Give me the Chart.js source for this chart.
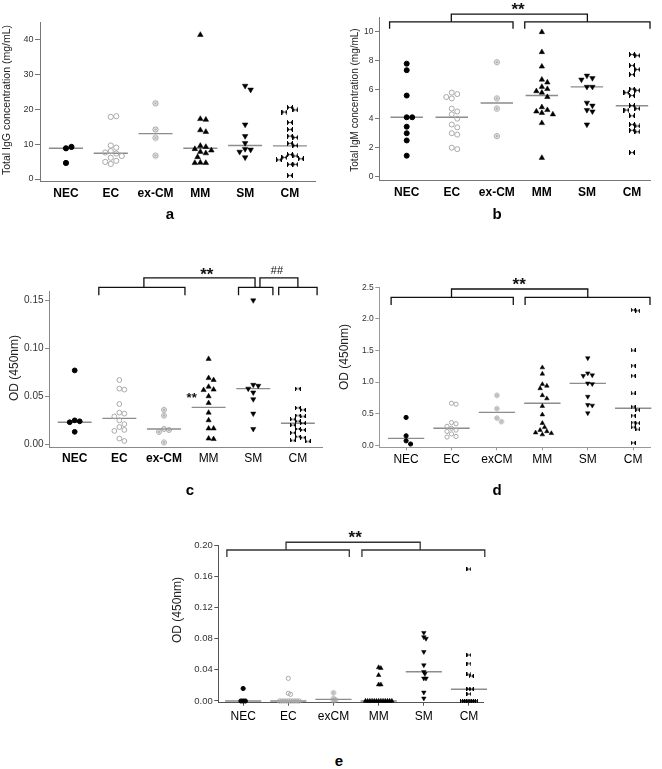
<!DOCTYPE html>
<html>
<head>
<meta charset="utf-8">
<script src="https://cdn.jsdelivr.net/npm/chart.js@4/dist/chart.umd.min.js"></script>
<style>
    body { margin: 0; background: #fff; width: 662px; height: 769px; position: relative; overflow: hidden; font-family: Arial, "Liberation Sans", sans-serif; }
    .panel { position: absolute; }
    .lbl { position: absolute; font-weight: bold; font-size: 15px; transform: translate(-50%, -50%); }
</style>
</head>
<body>
<div class="panel" style="left:0;top:0"><canvas id="chartA" width="330" height="205"></canvas></div>
<div class="panel" style="left:330px;top:0"><canvas id="chartB" width="332" height="205"></canvas></div>
<div class="panel" style="left:0;top:240px"><canvas id="chartC" width="330" height="235"></canvas></div>
<div class="panel" style="left:330px;top:240px"><canvas id="chartD" width="332" height="235"></canvas></div>
<div class="panel" style="left:150px;top:480px"><canvas id="chartE" width="350" height="255"></canvas></div>
<div class="lbl" style="left:170px;top:213px">a</div>
<div class="lbl" style="left:497px;top:213px">b</div>
<div class="lbl" style="left:190px;top:489px">c</div>
<div class="lbl" style="left:497px;top:489px">d</div>
<div class="lbl" style="left:339px;top:760px">e</div>

<script>
// ---- groups ----
const groups = ["NEC", "EC", "ex-CM", "MM", "SM", "CM"];
const groupsShort = ["NEC", "EC", "exCM", "MM", "SM", "CM"];

// ---- a: total IgG (mg/mL), one list per group ----
const iggValues = [
    [8.8, 9.2, 4.6],
    [17.8, 18.0, 9.6, 9.0, 8.0, 7.6, 7.3, 6.6, 6.1, 5.2, 4.9, 4.3],
    [21.7, 14.2, 11.8, 6.7],
    [41.3, 17.2, 17.0, 14.0, 13.5, 9.5, 9.2, 8.6, 8.2, 7.8, 7.4, 6.3, 4.7, 4.6, 4.6],
    [26.7, 25.6, 15.6, 12.3, 10.3, 8.6, 8.4, 7.8, 6.2],
    [20.5, 19.8, 19.2, 16.2, 14.2, 12.3, 11.9, 10.2, 9.6, 7.0, 6.6, 6.2, 5.8, 5.5, 4.2, 4.2, 1.0]
];
const iggMedians = [8.8, 7.4, 13.0, 8.8, 9.6, 9.5];
const iggTicks = [0, 10, 20, 30, 40];

// ---- b: total IgM (mg/mL) ----
const igmValues = [
    [7.8, 7.35, 5.6, 4.1, 4.1, 3.45, 3.0, 2.5, 1.45],
    [5.8, 5.7, 5.5, 5.4, 4.7, 4.5, 4.3, 4.0, 3.6, 3.4, 3.0, 2.9, 2.0, 1.9],
    [7.9, 5.4, 4.7, 2.8],
    [9.98, 8.6, 7.6, 6.7, 6.5, 6.2, 6.05, 5.9, 5.8, 5.5, 4.8, 4.6, 4.5, 4.4, 4.3, 3.7, 1.3],
    [6.97, 6.8, 6.7, 6.2, 6.2, 5.1, 4.9, 4.6, 4.5, 3.6],
    [8.43, 8.36, 7.67, 7.4, 7.05, 6.05, 5.96, 5.8, 5.6, 4.9, 4.7, 4.6, 4.2, 3.6, 3.5, 3.2, 3.1, 1.66]
];
const igmMedians = [4.1, 4.1, 5.08, 5.6, 6.2, 4.9];
const igmTicks = [0, 2, 4, 6, 8, 10];

// ---- c: OD (450nm) ----
const odCValues = [
    [0.077, 0.025, 0.024, 0.023, 0.013],
    [0.067, 0.058, 0.057, 0.042, 0.033, 0.032, 0.029, 0.025, 0.021, 0.018, 0.015, 0.014, 0.006, 0.0035],
    [0.036, 0.030, 0.016, 0.015, 0.013, 0.002],
    [0.089, 0.069, 0.067, 0.060, 0.057, 0.0565, 0.050, 0.043, 0.033, 0.025, 0.0165, 0.0165, 0.006, 0.0055],
    [0.150, 0.062, 0.061, 0.058, 0.054, 0.047, 0.032, 0.016],
    [0.058, 0.038, 0.036, 0.030, 0.029, 0.026, 0.024, 0.022, 0.020, 0.016, 0.015, 0.012, 0.008, 0.007, 0.004, 0.003]
];
const odCMedians = [0.023, 0.027, 0.016, 0.0385, 0.058, 0.022];
const odCTicks = [0, 0.05, 0.10, 0.15];

// ---- d: OD (450nm) ----
const odDValues = [
    [0.44, 0.15, 0.07, 0.02],
    [0.665, 0.65, 0.36, 0.34, 0.30, 0.27, 0.24, 0.22, 0.18, 0.14, 0.13],
    [0.79, 0.58, 0.43, 0.375],
    [1.23, 1.13, 0.965, 0.94, 0.90, 0.79, 0.74, 0.62, 0.485, 0.35, 0.285, 0.24, 0.22, 0.20, 0.19, 0.17],
    [1.38, 1.14, 1.11, 1.10, 0.98, 0.97, 0.77, 0.64, 0.63, 0.51],
    [2.14, 2.13, 1.50, 1.26, 1.10, 0.82, 0.61, 0.56, 0.47, 0.36, 0.35, 0.285, 0.25, 0.04]
];
const odDMedians = [0.11, 0.27, 0.52, 0.665, 0.98, 0.585];
const odDTicks = [0, 0.5, 1.0, 1.5, 2.0, 2.5];

// ---- e: OD (450nm) ----
const odEValues = [
    [0.016, 0, 0, 0],
    [0.029, 0.0098, 0.0085, 0, 0, 0, 0, 0, 0, 0, 0, 0, 0],
    [0.0106, 0.0034, 0.0013, 0],
    [0.043, 0.042, 0.033, 0.021, 0.021, 0, 0, 0, 0, 0, 0, 0, 0, 0, 0, 0, 0, 0],
    [0.0875, 0.082, 0.080, 0.063, 0.046, 0.0375, 0.035, 0.029, 0.029, 0.011, 0.0034],
    [0.169, 0.059, 0.048, 0.034, 0.032, 0.0155, 0.015, 0.009, 0, 0, 0, 0, 0, 0, 0]
];
const odEMedians = [0, 0, 0.002, 0, 0.0375, 0.015];
const odETicks = [0, 0.04, 0.08, 0.12, 0.16, 0.20];

const FONT = 'Arial, "Liberation Sans", sans-serif';

// brackets, stars and the rotated y title
const marksPlugin = {
    id: 'marks',
    afterDraw(chart, args, opts) {
        const { ctx } = chart;
        const x = chart.scales.x;
        const y = chart.scales.y;
        ctx.save();
        ctx.strokeStyle = opts.color;
        ctx.lineWidth = 1.3;
        (opts.brackets || []).forEach(b => {
            const x1 = x.getPixelForValue(b[0]);
            const x2 = x.getPixelForValue(b[1]);
            const yt = y.getPixelForValue(b[2]);
            const yb = y.getPixelForValue(b[3]);
            ctx.beginPath();
            ctx.moveTo(x1, yb);
            ctx.lineTo(x1, yt);
            ctx.lineTo(x2, yt);
            ctx.lineTo(x2, yb);
            ctx.stroke();
        });
        ctx.fillStyle = '#111';
        ctx.textAlign = 'center';
        ctx.textBaseline = 'middle';
        (opts.texts || []).forEach(t => {
            ctx.font = `${t.bold ? 'bold ' : ''}${t.size}px ${FONT}`;
            ctx.fillText(t.text, x.getPixelForValue(t.x), y.getPixelForValue(t.y) + (t.dy || 0));
        });
        if (opts.title) {
            ctx.translate(opts.title.x, opts.title.y);
            ctx.rotate(-Math.PI / 2);
            ctx.font = `${opts.title.size}px ${FONT}`;
            ctx.fillStyle = '#222';
            ctx.fillText(opts.title.text, 0, 0);
        }
        ctx.restore();
    }
};

function makeMarkers(r) {
    // ex-CM: grey ring with a dot inside
    const s = Math.ceil(2 * r + 3);
    const ring = document.createElement('canvas');
    ring.width = ring.height = s;
    let g = ring.getContext('2d');
    g.strokeStyle = '#9a9a9a';
    g.lineWidth = 1;
    g.beginPath(); g.arc(s / 2, s / 2, r, 0, Math.PI * 2); g.stroke();
    g.fillStyle = '#b0b0b0';
    g.beginPath(); g.arc(s / 2, s / 2, r * 0.5, 0, Math.PI * 2); g.fill();

    // CM: bow tie
    const bw = Math.round(2 * r + 1);
    const bh = Math.round(2 * r - 0.5);
    const tie = document.createElement('canvas');
    tie.width = bw; tie.height = bh;
    g = tie.getContext('2d');
    g.fillStyle = '#000';
    g.beginPath(); g.moveTo(0, 0); g.lineTo(bw / 2, bh / 2); g.lineTo(0, bh); g.closePath(); g.fill();
    g.beginPath(); g.moveTo(bw, 0); g.lineTo(bw / 2, bh / 2); g.lineTo(bw, bh); g.closePath(); g.fill();
    g.fillRect(0, 0, 1, bh);
    g.fillRect(bw - 1, 0, 1, bh);
    return { ring, tie };
}

function groupStyle(i, r, m) {
    const base = { pointRadius: r, pointBorderWidth: 1, pointBackgroundColor: '#000', pointBorderColor: '#000', pointRotation: 0 };
    if (i === 0) return { ...base, pointStyle: 'circle' };
    if (i === 1) return { ...base, pointStyle: 'circle', pointBackgroundColor: 'rgba(255,255,255,0)', pointBorderColor: '#a8a8a8' };
    if (i === 2) return { ...base, pointStyle: m.ring };
    if (i === 3) return { ...base, pointStyle: 'triangle', pointRadius: r * 1.25, pointBorderWidth: 0.5 };
    if (i === 4) return { ...base, pointStyle: 'triangle', pointRadius: r * 1.25, pointBorderWidth: 0.5, pointRotation: 180 };
    return { ...base, pointStyle: m.tie };
}

// simple beeswarm: spread points of similar value sideways
function swarm(values, center, pxPerX, pxPerY, diam) {
    const placed = [];
    return values.map(v => {
        const py = v * pxPerY;
        let dx = 0;
        for (let k = 0; k < 60; k++) {
            const step = Math.ceil(k / 2) * diam / 2;
            const cand = k % 2 ? step : -step;
            const hit = placed.some(p => Math.hypot(p.dx - cand, p.py - py) < diam - 0.01);
            if (!hit) { dx = cand; break; }
        }
        placed.push({ dx, py });
        return { x: center + dx / pxPerX, y: v };
    });
}

function medianSegments(medians, half) {
    const pts = [];
    medians.forEach((m, i) => {
        pts.push({ x: i + 1 - half, y: m }, { x: i + 1 + half, y: m }, { x: i + 1 + half, y: null });
    });
    return pts;
}

function makePanel(cfg) {
    const plotW = cfg.w - cfg.right - cfg.left;
    const plotH = cfg.h - cfg.xAxisH - cfg.top;
    const pxPerX = plotW / (cfg.xMax - cfg.xMin);
    const pxPerY = plotH / (cfg.yMax - cfg.yMin);
    const markers = makeMarkers(cfg.r);

    const datasets = cfg.values.map((vals, i) => ({
        data: swarm(vals, i + 1, pxPerX, pxPerY, cfg.diam),
        ...groupStyle(i, cfg.r, markers),
        showLine: false,
        clip: false,
        order: 1
    }));
    datasets.push({
        data: medianSegments(cfg.medians, cfg.half),
        showLine: true,
        spanGaps: false,
        pointRadius: 0,
        borderColor: cfg.medianColor || '#8c8c8c',
        borderWidth: 1.4,
        clip: false,
        order: 2
    });

    new Chart(document.getElementById(cfg.id), {
        type: 'scatter',
        data: { datasets },
        options: {
            responsive: false,
            animation: false,
            events: [],
            layout: { padding: { top: cfg.top, right: cfg.right, left: 0, bottom: 0 } },
            plugins: {
                legend: { display: false },
                tooltip: { enabled: false },
                marks: {
                    color: cfg.bracketColor || '#111',
                    brackets: cfg.brackets,
                    texts: cfg.texts,
                    title: cfg.title
                }
            },
            scales: {
                x: {
                    type: 'linear',
                    min: cfg.xMin,
                    max: cfg.xMax,
                    afterBuildTicks: s => { s.ticks = cfg.labels.map((_, i) => ({ value: i + 1 })); },
                    afterFit: s => { s.height = cfg.xAxisH; },
                    grid: { drawOnChartArea: false, drawTicks: cfg.xTickLen > 0, tickLength: cfg.xTickLen || 0, color: cfg.axisColor },
                    border: { color: cfg.axisColor, width: 1 },
                    ticks: {
                        autoSkip: false,
                        maxRotation: 0,
                        padding: cfg.labelPad,
                        color: '#000',
                        font: c => ({ family: FONT, size: 12, weight: cfg.bold[c.index] ? 'bold' : 'normal' }),
                        callback: v => cfg.labels[Math.round(v) - 1]
                    }
                },
                y: {
                    min: cfg.yMin,
                    max: cfg.yMax,
                    afterBuildTicks: s => { s.ticks = cfg.yTicks.map(v => ({ value: v })); },
                    afterFit: s => { s.width = cfg.left; },
                    grid: { drawOnChartArea: false, tickLength: cfg.tickLen, color: cfg.axisColor },
                    border: { color: cfg.axisColor, width: 1 },
                    ticks: {
                        padding: 1.5,
                        color: '#333',
                        font: { family: FONT, size: cfg.tickSize },
                        callback: v => cfg.fmt(v)
                    }
                }
            }
        },
        plugins: [marksPlugin]
    });
}

makePanel({
    id: 'chartA', w: 330, h: 205, left: 40, right: 15, top: 22, xAxisH: 24,
    xMin: 0.42, xMax: 6.56, yMin: -0.57, yMax: 45,
    yTicks: iggTicks, fmt: v => String(v),
    labels: groups, bold: [1, 1, 1, 1, 1, 1], labelPad: 5, xTickLen: 0,
    values: iggValues, medians: iggMedians,
    r: 2.6, diam: 5.5, half: 0.38,
    tickSize: 9, tickLen: 5, axisColor: '#777',
    title: { text: 'Total IgG concentration (mg/mL)', x: 7, y: 100, size: 10.5 },
    brackets: [], texts: []
});

makePanel({
    id: 'chartB', w: 332, h: 205, left: 49, right: 12, top: 17.3, xAxisH: 25,
    xMin: 0.385, xMax: 6.4, yMin: -0.23, yMax: 11,
    yTicks: igmTicks, fmt: v => String(v),
    labels: groups, bold: [1, 1, 1, 1, 1, 1], labelPad: 5, xTickLen: 0,
    values: igmValues, medians: igmMedians,
    r: 2.5, diam: 5.5, half: 0.36,
    tickSize: 8.5, tickLen: 4, axisColor: '#777',
    title: { text: 'Total IgM concentration (mg/mL)', x: 25, y: 100, size: 10 },
    brackets: [[0.62, 3.36, 10.69, 10.21], [3.62, 6.4, 10.69, 10.21], [1.99, 5.01, 11.22, 10.69]],
    texts: [{ x: 3.47, y: 11.75, text: '**', size: 17, bold: true, dy: 4 }]
});

makePanel({
    id: 'chartC', w: 330, h: 235, left: 49, right: 8, top: 51.7, xAxisH: 27.7,
    xMin: 0.424, xMax: 6.54, yMin: -0.0031, yMax: 0.159,
    yTicks: odCTicks, fmt: v => v.toFixed(2),
    labels: groups, bold: [1, 1, 1, 0, 0, 0], labelPad: 4.4, xTickLen: 0,
    values: odCValues, medians: odCMedians,
    r: 2.4, diam: 5, half: 0.38,
    tickSize: 10, tickLen: 4, axisColor: '#888',
    title: { text: 'OD (450nm)', x: 15, y: 128, size: 12 },
    brackets: [[1.54, 3.47, 0.1636, 0.1552], [4.67, 5.44, 0.1636, 0.1552], [5.57, 6.43, 0.1636, 0.1552],
               [2.55, 5.04, 0.1733, 0.1636], [5.15, 6.0, 0.1733, 0.1636]],
    texts: [{ x: 3.96, y: 0.1806, text: '**', size: 17, bold: true, dy: 4 },
            { x: 5.53, y: 0.1806, text: '##', size: 11 },
            { x: 3.62, y: 0.0506, text: '**', size: 13, bold: true, dy: 3 }]
});

makePanel({
    id: 'chartD', w: 332, h: 235, left: 49.3, right: 12, top: 47.3, xAxisH: 27.7,
    xMin: 0.41, xMax: 6.37, yMin: -0.032, yMax: 2.5,
    yTicks: odDTicks, fmt: v => v.toFixed(1),
    labels: groupsShort, bold: [0, 0, 0, 0, 0, 0], labelPad: 2, xTickLen: 3,
    values: odDValues, medians: odDMedians,
    r: 2.1, diam: 4.5, half: 0.4,
    tickSize: 8.5, tickLen: 4, axisColor: '#999',
    title: { text: 'OD (450nm)', x: 15, y: 117, size: 12 },
    brackets: [[0.67, 3.36, 2.342, 2.22], [3.62, 6.37, 2.342, 2.22], [2.0, 5.0, 2.473, 2.342]],
    texts: [{ x: 3.49, y: 2.59, text: '**', size: 17, bold: true, dy: 4 }]
});

makePanel({
    id: 'chartE', w: 350, h: 255, left: 68.3, right: 17, top: 65, xAxisH: 32.3,
    xMin: 0.45, xMax: 6.31, yMin: -0.0022, yMax: 0.2,
    yTicks: odETicks, fmt: v => v.toFixed(2),
    labels: groupsShort, bold: [0, 0, 0, 0, 0, 0], labelPad: 3.7, xTickLen: 3,
    values: odEValues, medians: odEMedians,
    r: 2.1, diam: 2.2, half: 0.4,
    tickSize: 9.5, tickLen: 4, axisColor: '#555', bracketColor: '#333',
    title: { text: 'OD (450nm)', x: 28, y: 130, size: 12 },
    brackets: [[0.64, 3.35, 0.1936, 0.1846], [3.63, 6.35, 0.1936, 0.1846], [1.95, 4.92, 0.2035, 0.1936]],
    texts: [{ x: 3.48, y: 0.214, text: '**', size: 17, bold: true, dy: 4 }]
});
</script>
</body>
</html>
